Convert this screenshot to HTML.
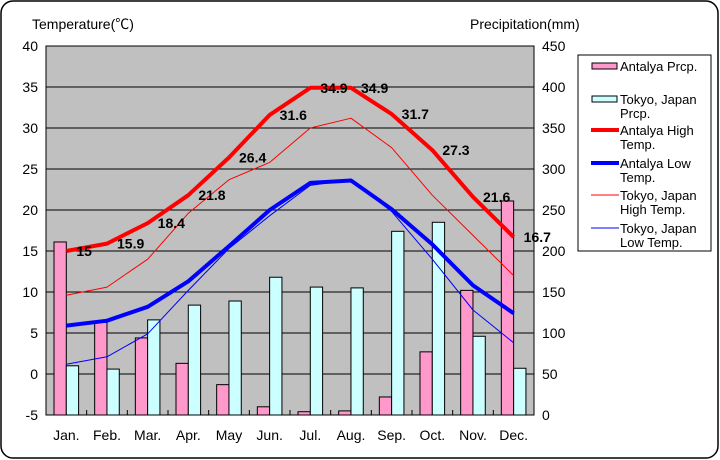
<!DOCTYPE html>
<html><head><meta charset="utf-8"><style>
html,body{margin:0;padding:0;background:#fff;}
svg{display:block;font-family:"Liberation Sans","Noto Sans CJK JP",sans-serif;}
</style></head><body>
<svg width="720" height="460" viewBox="0 0 720 460" xmlns="http://www.w3.org/2000/svg">
<rect x="1" y="1" width="717" height="457" rx="12" ry="12" fill="#fff" stroke="#000" stroke-width="1.5"/>
<rect x="46" y="46" width="488" height="369" fill="#c0c0c0" stroke="#000" stroke-width="1"/>
<g stroke="#000" stroke-width="1" id="grid"></g>
<g id="bars"></g>
<g id="lines" fill="none" stroke-linejoin="round"></g>
<g id="labels" font-size="14" font-weight="bold" fill="#000"></g>
<g id="axes" font-size="14" fill="#000"></g>
<text x="32" y="29" font-size="14">Temperature(℃)</text>
<text x="470" y="29" font-size="14">Precipitation(mm)</text>
<rect x="578" y="55" width="133" height="196" fill="#fff" stroke="#000" stroke-width="1"/>
<g font-size="13" fill="#000">
<rect x="592" y="63" width="25" height="6" fill="#ff99cc" stroke="#000"/>
<text x="620" y="71">Antalya Prcp.</text>
<rect x="592" y="96" width="25" height="6" fill="#ccffff" stroke="#000"/>
<text x="620" y="104">Tokyo, Japan</text><text x="620" y="118">Prcp.</text>
<line x1="591" y1="130" x2="619" y2="130" stroke="#f00" stroke-width="4"/>
<text x="620" y="135">Antalya High</text><text x="620" y="149">Temp.</text>
<line x1="591" y1="163" x2="619" y2="163" stroke="#00f" stroke-width="4"/>
<text x="620" y="168">Antalya Low</text><text x="620" y="182">Temp.</text>
<line x1="591" y1="195" x2="619" y2="195" stroke="#f00" stroke-width="1"/>
<text x="620" y="200">Tokyo, Japan</text><text x="620" y="214">High Temp.</text>
<line x1="591" y1="228" x2="619" y2="228" stroke="#00f" stroke-width="1"/>
<text x="620" y="233">Tokyo, Japan</text><text x="620" y="247">Low Temp.</text>
</g>
<script>
var NS="http://www.w3.org/2000/svg";
function el(p,t,a,txt){var e=document.createElementNS(NS,t);for(var k in a)e.setAttribute(k,a[k]);if(txt!=null)e.textContent=txt;document.getElementById(p).appendChild(e);}
var L=46,W=488,T=46,B=415,mw=W/12;
function ty(t){return B-(t+5)*8.2;}
function py(p){return B-p*41/50;}
for(var i=1;i<9;i++){var y=T+i*41;el("grid","line",{x1:L,x2:L+W,y1:y,y2:y});}
for(var i=1;i<12;i++){var x=L+i*mw;el("grid","line",{x1:x,x2:x,y1:B,y2:B-5});}
for(var i=0;i<=9;i++){var y=T+i*41;el("axes","text",{x:38,y:y+5,"text-anchor":"end"},String(40-5*i));el("axes","text",{x:542,y:y+5},String(450-50*i));}
var mon=["Jan.","Feb.","Mar.","Apr.","May","Jun.","Jul.","Aug.","Sep.","Oct.","Nov.","Dec."];
for(var i=0;i<12;i++)el("axes","text",{x:L+mw*(i+0.5),y:440,"text-anchor":"middle"},mon[i]);
var ap=[211,113,94,63,37,10,4,5,22,77,152,261],tp=[60,56,116,134,139,168,156,155,224,235,96,57];
for(var i=0;i<12;i++){var x=L+i*mw+8;
el("bars","rect",{x:x,y:py(ap[i]),width:12.3,height:B-py(ap[i]),fill:"#ff99cc",stroke:"#000","stroke-width":1});
el("bars","rect",{x:x+12.3,y:py(tp[i]),width:12.3,height:B-py(tp[i]),fill:"#ccffff",stroke:"#000","stroke-width":1});}
function line(d,c,w){var s="";for(var i=0;i<12;i++)s+=(i?"L":"M")+(L+mw*(i+0.5)).toFixed(1)+","+ty(d[i]).toFixed(1);el("lines","path",{d:s,stroke:c,"stroke-width":w});}
var ah=[15,15.9,18.4,21.8,26.4,31.6,34.9,34.9,31.7,27.3,21.6,16.7];
line([9.6,10.6,14,19.6,23.7,25.8,30,31.2,27.6,21.8,16.9,12],"#f00",1);
line([1.2,2.1,4.9,10.2,15.3,19.3,23,23.7,19.8,14,7.8,3.8],"#00f",1);
line(ah,"#f00",4);
line([5.9,6.5,8.2,11.3,15.6,20,23.3,23.6,20.1,15.8,10.8,7.4],"#00f",4);
for(var i=0;i<12;i++)el("labels","text",{x:L+mw*(i+0.5)+10,y:ty(ah[i])+5},String(ah[i]));
</script>
</svg>
</body></html>
